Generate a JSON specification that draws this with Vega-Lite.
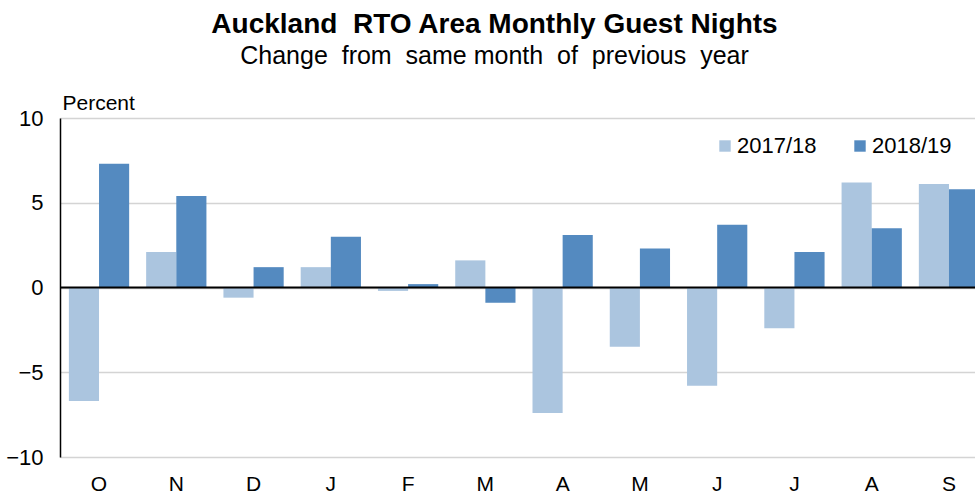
{
  "$schema": "https://vega.github.io/schema/vega-lite/v6.json",
  "width": 915,
  "height": 339,
  "autosize": {"type": "none"},
  "padding": {"left": 60, "top": 118, "right": 0, "bottom": 41},
  "background": "white",
  "title": {
    "text": "Auckland\u00a0 RTO Area Monthly Guest Nights",
    "subtitle": "Change\u00a0 from\u00a0 same month\u00a0 of\u00a0 previous\u00a0 year",
    "anchor": "middle",
    "dx": -23,
    "offset": 23,
    "font": "Liberation Sans",
    "fontSize": 28,
    "fontWeight": "bold",
    "color": "black",
    "subtitleFont": "Liberation Sans",
    "subtitleFontSize": 25,
    "subtitleColor": "black",
    "subtitlePadding": 5
  },
  "config": {
    "view": {"stroke": null},
    "font": "Liberation Sans"
  },
  "data": {
    "values": [
      {"month": "Oct", "series": "2017/18", "value": -6.7},
      {"month": "Oct", "series": "2018/19", "value": 7.3},
      {"month": "Nov", "series": "2017/18", "value": 2.1},
      {"month": "Nov", "series": "2018/19", "value": 5.4},
      {"month": "Dec", "series": "2017/18", "value": -0.6},
      {"month": "Dec", "series": "2018/19", "value": 1.2},
      {"month": "Jan", "series": "2017/18", "value": 1.2},
      {"month": "Jan", "series": "2018/19", "value": 3.0},
      {"month": "Feb", "series": "2017/18", "value": -0.2},
      {"month": "Feb", "series": "2018/19", "value": 0.2},
      {"month": "Mar", "series": "2017/18", "value": 1.6},
      {"month": "Mar", "series": "2018/19", "value": -0.9},
      {"month": "Apr", "series": "2017/18", "value": -7.4},
      {"month": "Apr", "series": "2018/19", "value": 3.1},
      {"month": "May", "series": "2017/18", "value": -3.5},
      {"month": "May", "series": "2018/19", "value": 2.3},
      {"month": "Jun", "series": "2017/18", "value": -5.8},
      {"month": "Jun", "series": "2018/19", "value": 3.7},
      {"month": "Jul", "series": "2017/18", "value": -2.4},
      {"month": "Jul", "series": "2018/19", "value": 2.1},
      {"month": "Aug", "series": "2017/18", "value": 6.2},
      {"month": "Aug", "series": "2018/19", "value": 3.5},
      {"month": "Sep", "series": "2017/18", "value": 6.1},
      {"month": "Sep", "series": "2018/19", "value": 5.8}
    ]
  },
  "layer": [
    {
      "mark": {"type": "bar", "clip": true},
      "encoding": {
        "x": {
          "field": "month",
          "type": "nominal",
          "sort": ["Oct","Nov","Dec","Jan","Feb","Mar","Apr","May","Jun","Jul","Aug","Sep"],
          "scale": {"range": [0, 928], "paddingInner": 0.22, "paddingOuter": 0.115},
          "axis": {
            "title": null,
            "labelExpr": "substring(datum.label, 0, 1)",
            "labelAngle": 0,
            "labelFontSize": 21,
            "labelColor": "black",
            "labelPadding": 16,
            "ticks": false,
            "domain": false,
            "grid": false
          }
        },
        "xOffset": {
          "field": "series",
          "type": "nominal",
          "scale": {"paddingInner": 0, "paddingOuter": 0}
        },
        "y": {
          "field": "value",
          "type": "quantitative",
          "scale": {"domain": [-10, 10], "nice": false},
          "axis": {
            "values": [-10, -5, 0, 5, 10],
            "title": "Percent",
            "titleAngle": 0,
            "titleX": 2,
            "titleY": -5,
            "titleAlign": "left",
            "titleBaseline": "bottom",
            "titleFontSize": 21,
            "titleFontWeight": "normal",
            "titleColor": "black",
            "labelFontSize": 22,
            "labelColor": "black",
            "labelPadding": 17,
            "ticks": false,
            "tickSize": 0,
            "domainColor": "black",
            "domainWidth": 1.5,
            "gridColor": "#d4d4d4",
            "gridWidth": 1.5
          }
        },
        "color": {
          "field": "series",
          "type": "nominal",
          "scale": {"domain": ["2017/18", "2018/19"], "range": ["#abc5df", "#548ac0"]},
          "legend": {
            "title": null,
            "orient": "none",
            "direction": "horizontal",
            "legendX": 654,
            "legendY": 17,
            "symbolType": "square",
            "symbolSize": 130,
            "symbolStrokeWidth": 0,
            "symbolOpacity": 1,
            "labelFontSize": 22,
            "labelColor": "black",
            "labelOffset": 1,
            "columnPadding": 32
          }
        }
      }
    },
    {
      "data": {"values": [{"zero": 0}]},
      "mark": {"type": "rule", "color": "black", "strokeWidth": 2},
      "encoding": {"y": {"field": "zero", "type": "quantitative"}}
    }
  ]
}
